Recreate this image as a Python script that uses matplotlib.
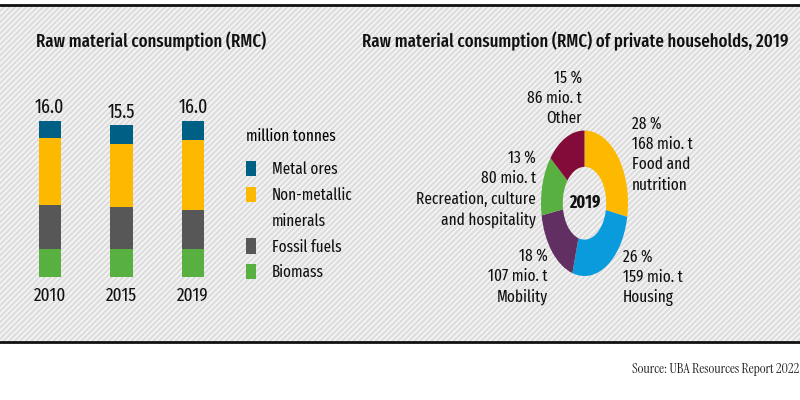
import logging
import matplotlib
matplotlib.use("Agg")
import matplotlib.pyplot as plt
from matplotlib.patches import Rectangle, Patch

logging.getLogger('matplotlib.font_manager').setLevel(logging.ERROR)
plt.rcParams['font.family'] = ['Fira Sans Extra Condensed', 'Barlow Condensed', 'Noto Sans', 'DejaVu Sans']
plt.rcParams['hatch.color'] = '#dddddd'
plt.rcParams['hatch.linewidth'] = 1.6

years = ['2010', '2015', '2019']
totals = ['16.0', '15.5', '16.0']
biomass = [2.9, 2.9, 2.9]
fossil = [4.5, 4.3, 4.0]
non_metallic = [6.8, 6.4, 7.1]
metal_ores = [1.8, 1.9, 2.0]
series_names = ['Biomass', 'Fossil fuels', 'Non-metallic', 'Metal ores']
series_colors = ['#57b03f', '#575757', '#fdb900', '#005f85']

shares = [168, 159, 107, 80, 86]
share_colors = ['#fdb900', '#0a9bdc', '#622f63', '#57b03f', '#830b3a']
share_labels = ['28 %\n168 mio. t\nFood and\nnutrition',
                '26 %\n159 mio. t\nHousing',
                '18 %\n107 mio. t\nMobility',
                '13 %\n80 mio. t\nRecreation, culture\nand hospitality',
                '15 %\n86 mio. t\nOther']


def px_axes(fig, left, top, right, bottom):
    return fig.add_axes([left / 800, (400 - bottom) / 400, (right - left) / 800, (bottom - top) / 400])


fig = plt.figure(figsize=(8, 4), dpi=100, facecolor='white')

# striped panel behind everything
fig.patches.append(Rectangle((0, 58 / 400), 1, 337 / 400, transform=fig.transFigure, zorder=-5,
                             facecolor='#f5f5f5', edgecolor='#dddddd', hatch='//////', linewidth=0, figure=fig))
for y in (4.5, 342):
    fig.add_artist(plt.Line2D([0, 1], [1 - y / 400] * 2, color='#111111', lw=2.0))

fig.text(36 / 800, 1 - 41 / 400, 'Raw material consumption (RMC)', fontsize=13.2, fontweight='medium',
         va='center', ha='left', color='#111111')
fig.text(362 / 800, 1 - 41 / 400, 'Raw material consumption (RMC) of private households, 2019', fontsize=13.2,
         fontweight='medium', va='center', ha='left', color='#111111')
fig.text(799 / 800, 1 - 369 / 400, 'Source: UBA Resources Report 2022', fontsize=10,
         family=['Instrument Serif', 'Crimson Text', 'Liberation Serif'], va='center', ha='right', color='#222222')

# stacked bars
ax = px_axes(fig, 14, 100, 229, 277)
ax.patch.set_alpha(0)
xs = list(range(len(years)))
bottom = [0, 0, 0]
for values, name, color in zip([biomass, fossil, non_metallic, metal_ores], series_names, series_colors):
    ax.bar(xs, values, 0.314, bottom=bottom, color=color, label=name)
    bottom = [b + v for b, v in zip(bottom, values)]
for x, b, t in zip(xs, bottom, totals):
    ax.text(x, b + 0.35, t, ha='center', va='bottom', fontsize=14, color='#111111')
ax.set_xlim(-0.5, 2.5)
ax.set_ylim(0, 177 / 9.78)
ax.set_xticks(xs, years)
ax.tick_params(axis='x', length=0, pad=7, labelsize=13.5, labelcolor='#111111')
ax.set_yticks([])
for s in ax.spines.values():
    s.set_visible(False)

# second line of the non-metallic label gets an empty handle
handles, labels = ax.get_legend_handles_labels()
handles, labels = handles[::-1], labels[::-1]
handles.insert(2, Patch(visible=False))
labels.insert(2, 'minerals')
leg = ax.legend(handles, labels, title='million tonnes', loc='upper left',
                bbox_to_anchor=((246 - 14) / 215, 1 - 28 / 177), frameon=False, fontsize=11.8, title_fontsize=11.8,
                alignment='left', handlelength=0.61, handleheight=1.04, handletextpad=0.98, labelspacing=0.57,
                borderpad=0, borderaxespad=0, labelcolor='#111111')
leg._legend_box.sep = 12.2

# donut, squashed horizontally like the reference
ax2 = px_axes(fig, 541, 130.5, 628, 276)
ax2.patch.set_alpha(0)
ax2.pie(shares, colors=share_colors, startangle=90, counterclock=False, radius=1,
        wedgeprops={'width': 0.5, 'linewidth': 0})
ax2.set_aspect('auto')
ax2.set_xlim(-1, 1)
ax2.set_ylim(-1, 1)
ax2.text(0, 0, '2019', ha='center', va='center', fontsize=12.5, fontweight='bold', color='#111111')

# donut labels, placed in pixels of the figure
label_pos = [(632, 154.5, 'left'), (623, 277.5, 'left'), (548, 276.5, 'right'), (536, 189, 'right'), (582, 98, 'right')]
for text, (x, y, ha) in zip(share_labels, label_pos):
    fig.text(x / 800, 1 - y / 400, text, ha=ha, va='center', fontsize=12, linespacing=1.33, color='#111111')

fig.savefig('out.png', dpi=100)
